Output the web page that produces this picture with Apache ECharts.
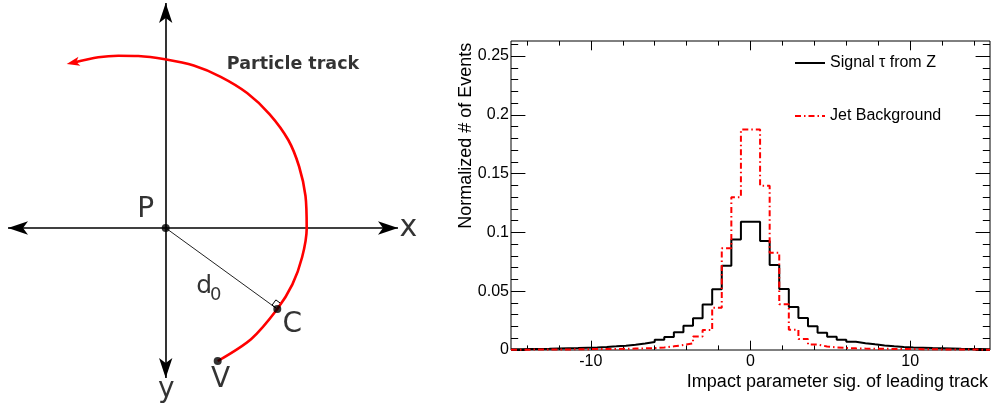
<!DOCTYPE html>
<html>
<head>
<meta charset="utf-8">
<script src="https://cdn.jsdelivr.net/npm/echarts@6/dist/echarts.min.js"></script>
<style>
  html, body { margin: 0; padding: 0; background: #fff; }
  #chart { width: 993px; height: 410px; }
</style>
</head>
<body>
<div id="chart"></div>
<script>
// ---------- Histogram: impact parameter significance ----------
const binLow = -15;
const binWidth = 0.6;

const signalTauZ = [
  0.0007, 0.0008, 0.0009, 0.0010, 0.0012, 0.0014, 0.0016, 0.0019, 0.0022, 0.0026,
  0.0031, 0.0037, 0.0045, 0.0055, 0.0068, 0.0088, 0.0110, 0.0150, 0.0207, 0.0269,
  0.0388, 0.0516, 0.0717, 0.0940, 0.1090, 0.1090, 0.0927, 0.0723, 0.0519, 0.0365,
  0.0272, 0.0203, 0.0146, 0.0112, 0.0088, 0.0070, 0.0058, 0.0048, 0.0039, 0.0031,
  0.0026, 0.0022, 0.0019, 0.0016, 0.0014, 0.0012, 0.0010, 0.0009, 0.0008, 0.0007
];

const jetBackground = [
  0.0003, 0.0003, 0.0004, 0.0004, 0.0005, 0.0005, 0.0006, 0.0007, 0.0008, 0.0008,
  0.0009, 0.0010, 0.0012, 0.0014, 0.0016, 0.0022, 0.0031, 0.0042, 0.0056, 0.0115,
  0.0170, 0.0360, 0.0865, 0.1300, 0.1875, 0.1875, 0.1397, 0.0828, 0.0390, 0.0172,
  0.0094, 0.0046, 0.0030, 0.0022, 0.0017, 0.0014, 0.0012, 0.0011, 0.0010, 0.0009,
  0.0008, 0.0008, 0.0007, 0.0006, 0.0005, 0.0005, 0.0004, 0.0004, 0.0003, 0.0003
];

const xMajorTicks = [-10, 0, 10];
const xMinorTicks = [-14, -12, -8, -6, -4, -2, 2, 4, 6, 8, 12, 14];
const yMajorTicks = [0, 0.05, 0.1, 0.15, 0.2, 0.25];
const yMinorTicks = [0.01, 0.02, 0.03, 0.04, 0.06, 0.07, 0.08, 0.09, 0.11, 0.12, 0.13, 0.14,
                     0.16, 0.17, 0.18, 0.19, 0.21, 0.22, 0.23, 0.24, 0.26];

const signalName = 'Signal \u03c4 from Z';
const backgroundName = 'Jet Background';

// ---------- Diagram: transverse impact parameter geometry ----------
// Origin at the primary vertex P, y pointing down.
const pointP = [0, 0];
const pointC = [11.16, 8.10];
const pointV = [5.20, 13.30];
const axisXTips = [-15.77, 23.23];
const axisYTips = [-22.5, 15.0];
const trackPath = [
  [5.20, 13.30], [8.56, 11.09], [11.16, 8.10], [12.67, 5.64], [13.64, 2.93],
  [14.10, 0.05], [13.98, -3.20], [13.34, -6.15], [12.26, -8.80], [10.40, -11.37],
  [8.14, -13.50], [5.50, -15.12], [2.80, -16.25], [-0.07, -16.87], [-2.74, -17.20],
  [-4.74, -17.23], [-6.74, -17.07], [-9.26, -16.53]
];
const trackTip = [-9.90, -16.40];

// ---------- helpers ----------
const HIST_FONT = '"Liberation Sans", Arial, Helvetica, sans-serif';
const DIAG_FONT = '"DejaVu Sans", sans-serif';

// histogram outline: one point per bin low edge, plus the final upper edge
function stepPoints(values) {
  const pts = values.map((v, k) => [binLow + k * binWidth, v]);
  pts.push([binLow + values.length * binWidth, values[values.length - 1]]);
  return pts;
}

function tickAxis(kind, position, ticks, length, extra) {
  const ax = {
    gridIndex: 0,
    type: 'value',
    position: position,
    axisLine: { show: false, onZero: false },
    splitLine: { show: false },
    axisTick: { show: true, inside: true, length: length, customValues: ticks,
                lineStyle: { color: '#000', width: 1 } },
    axisLabel: { show: false }
  };
  if (kind === 'x') { ax.min = -15; ax.max = 15; }
  else { ax.min = 0; ax.max = 0.2628; }
  return Object.assign(ax, extra || {});
}

// arrowheads sit with their tips on the segment ends
const xAxisSegment = [[axisXTips[0], 0], [axisXTips[1], 0]];
const yAxisSegment = [[0, axisYTips[0]], [0, axisYTips[1]]];

// small right-angle mark at the point of closest approach
const lenPC = Math.hypot(pointC[0] - pointP[0], pointC[1] - pointP[1]);
const u = [(pointC[0] - pointP[0]) / lenPC, (pointC[1] - pointP[1]) / lenPC];
const n = [u[1], -u[0]];
const s = 0.65;
const rightAngle = [
  pointC,
  [pointC[0] - s * u[0], pointC[1] - s * u[1]],
  [pointC[0] - s * u[0] + s * n[0], pointC[1] - s * u[1] + s * n[1]],
  [pointC[0] + s * n[0], pointC[1] + s * n[1]],
  pointC
];
const midPC = [(pointP[0] + pointC[0]) / 2, (pointP[1] + pointC[1]) / 2];

function textItem(value, text, offset, fontSize, weight) {
  return {
    value: value,
    label: { formatter: text, offset: offset, fontSize: fontSize, fontWeight: weight || 'normal' }
  };
}

const chart = echarts.init(document.getElementById('chart'), null, { renderer: 'canvas' });

chart.setOption({
  animation: false,
  backgroundColor: '#fff',
  grid: [
    { left: 511, top: 41, width: 479, height: 309, show: true, borderColor: '#000', borderWidth: 1,
      backgroundColor: 'transparent', containLabel: false, outerBoundsMode: 'none' },
    { left: 0, top: 0, width: 420, height: 410, show: false, containLabel: false, outerBoundsMode: 'none' }
  ],
  legend: {
    data: [signalName, backgroundName],
    orient: 'vertical',
    left: 794,
    top: 55,
    padding: 0,
    itemWidth: 30,
    itemHeight: 14,
    itemGap: 37,
    selectedMode: false,
    itemStyle: { opacity: 0, borderWidth: 0 },
    textStyle: { fontSize: 16, fontFamily: HIST_FONT, color: '#000' }
  },
  xAxis: [
    tickAxis('x', 'bottom', xMajorTicks, 9.3, {
      axisLabel: { show: true, customValues: xMajorTicks, margin: 4, fontSize: 16,
                   fontFamily: HIST_FONT, color: '#000' }
    }),
    tickAxis('x', 'bottom', xMinorTicks, 4.6, {
      name: 'Impact parameter sig. of leading track',
      nameLocation: 'end',
      nameGap: -2,
      nameTextStyle: { fontSize: 18, fontFamily: HIST_FONT, color: '#000',
                       align: 'right', verticalAlign: 'top', padding: [23, 0, 0, 0] }
    }),
    tickAxis('x', 'top', xMajorTicks, 9.3),
    tickAxis('x', 'top', xMinorTicks, 4.6),
    { gridIndex: 1, type: 'value', min: -16.57, max: 25.43, show: false }
  ],
  yAxis: [
    tickAxis('y', 'left', yMajorTicks, 14.4, {
      axisLabel: { show: true, customValues: yMajorTicks, margin: 2, fontSize: 16,
                   fontFamily: HIST_FONT, color: '#000' }
    }),
    tickAxis('y', 'left', yMinorTicks, 7.2, {
      name: 'Normalized # of Events',
      nameLocation: 'end',
      nameRotate: 90,
      nameGap: -1.7,
      nameTextStyle: { fontSize: 18, fontFamily: HIST_FONT, color: '#000',
                       align: 'right', verticalAlign: 'bottom', padding: [0, 0, 35.5, 0] }
    }),
    tickAxis('y', 'right', yMajorTicks, 14.4),
    tickAxis('y', 'right', yMinorTicks, 7.2),
    { gridIndex: 1, type: 'value', min: -22.8, max: 18.2, inverse: true, show: false }
  ],
  series: [
    // ----- histogram -----
    {
      name: signalName,
      type: 'line',
      xAxisIndex: 0, yAxisIndex: 0,
      step: 'end',
      symbol: 'none',
      data: stepPoints(signalTauZ),
      color: '#000',
      lineStyle: { color: '#000', width: 2 },
      z: 3
    },
    {
      name: backgroundName,
      type: 'line',
      xAxisIndex: 0, yAxisIndex: 0,
      step: 'end',
      symbol: 'none',
      data: stepPoints(jetBackground),
      color: '#ff0000',
      lineStyle: { color: '#ff0000', width: 2, type: [6, 3, 1.5, 3] },
      z: 4
    },
    // ----- diagram: coordinate axes with arrowheads -----
    {
      type: 'lines',
      coordinateSystem: 'cartesian2d',
      xAxisIndex: 4, yAxisIndex: 4,
      silent: true,
      symbol: ['arrow', 'arrow'],
      symbolSize: [[10, 20], [10, 20]],
      lineStyle: { color: '#000', width: 1.6, opacity: 1 },
      data: [{ coords: xAxisSegment }, { coords: yAxisSegment }],
      z: 2
    },
    // distance of closest approach d0
    {
      type: 'line',
      xAxisIndex: 4, yAxisIndex: 4,
      silent: true,
      symbol: 'none',
      data: [pointP, pointC],
      lineStyle: { color: '#222', width: 1 },
      z: 3
    },
    {
      type: 'line',
      xAxisIndex: 4, yAxisIndex: 4,
      silent: true,
      symbol: 'none',
      data: rightAngle,
      lineStyle: { color: '#000', width: 1 },
      z: 3
    },
    // particle track
    {
      type: 'line',
      xAxisIndex: 4, yAxisIndex: 4,
      silent: true,
      symbol: 'none',
      smooth: 0.3,
      clip: false,
      data: trackPath,
      lineStyle: { color: '#ff0000', width: 2.6 },
      z: 4
    },
    {
      type: 'lines',
      coordinateSystem: 'cartesian2d',
      xAxisIndex: 4, yAxisIndex: 4,
      silent: true,
      symbol: ['none', 'arrow'],
      symbolSize: [0, [7, 13]],
      lineStyle: { color: '#ff0000', width: 0, opacity: 1 },
      data: [{ coords: [trackPath[trackPath.length - 2], trackTip] }],
      z: 4
    },
    // points P, C, V
    {
      type: 'scatter',
      xAxisIndex: 4, yAxisIndex: 4,
      silent: true,
      symbol: 'circle',
      symbolSize: 8,
      itemStyle: { color: '#000' },
      data: [pointP, pointC, pointV],
      z: 5
    },
    // diagram text
    {
      type: 'scatter',
      xAxisIndex: 4, yAxisIndex: 4,
      silent: true,
      symbol: 'circle',
      symbolSize: 1,
      itemStyle: { color: 'transparent' },
      label: { show: true, position: 'inside', color: '#000', fontFamily: DIAG_FONT },
      data: [
        textItem(pointP, 'P', [-20, -18], 28),
        textItem(pointC, 'C', [15, 16], 28),
        textItem(pointV, 'V', [3, 19], 28),
        textItem([axisXTips[1], 0], 'x', [10.3, -0.2], 30),
        textItem([0, axisYTips[1]], 'y', [0.7, 12], 28),
        textItem(midPC, 'd', [-17.3, 17.7], 25),
        textItem(midPC, '0', [-5.7, 26.5], 18),
        textItem(trackPath[10], 'Particle track', [45.9, -28.3], 17.5, 'bold')
      ],
      z: 6
    }
  ]
});
</script>
</body>
</html>
